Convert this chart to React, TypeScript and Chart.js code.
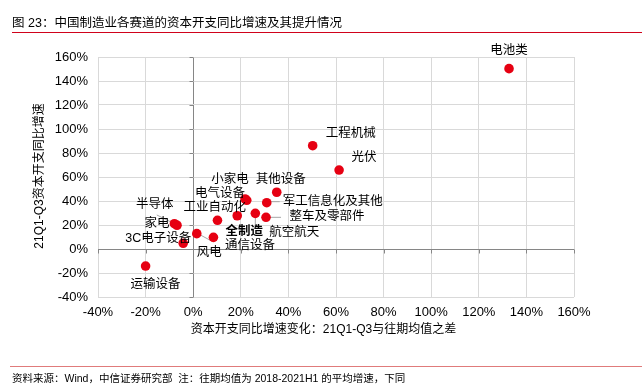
import React, { useEffect, useRef } from "react";
import { Chart, registerables } from "chart.js";

Chart.register(...registerables);

// ---- data ----
const categories = [
  "电池类", "工程机械", "光伏", "其他设备", "小家电", "电气设备",
  "军工信息化及其他", "整车及零部件", "航空航天", "全制造", "工业自动化",
  "通信设备", "风电", "半导体", "家电", "3C电子设备", "运输设备",
];
// x: 资本开支同比增速变化 (21Q1-Q3 与往期均值之差), %
const capexChange = [132.7, 50.2, 61.3, 35.1, 21.8, 22.5, 30.9, 30.6, 26.1, 18.5, 10.2, 8.5, 1.5, -7.9, -6.8, -4.2, -20.0];
// y: 21Q1-Q3 资本开支同比增速, %
const capexGrowth = [150.3, 86.1, 65.8, 47.3, 41.7, 40.6, 38.6, 26.4, 29.7, 27.7, 23.9, 9.7, 12.8, 21.1, 19.8, 4.8, -14.2];
const axisMin = -40;
const axisMax = 160;
const axisStep = 20;

const titleText = "图 23：中国制造业各赛道的资本开支同比增速及其提升情况";
const sourceText = "资料来源：Wind，中信证券研究部  注：往期均值为 2018-2021H1 的平均增速，下同";
const xTitleText = "资本开支同比增速变化：21Q1-Q3与往期均值之差";
const yTitleText = "21Q1-Q3资本开支同比增速";

// ---- label placement (pixel offsets from each point; style only) ----
type Place = { dx: number; dy: number; bold?: boolean; leader?: [number, number, number, number] };
const placements: Place[] = [
  { dx: 0, dy: -18 },
  { dx: 38, dy: -12.4 },
  { dx: 25, dy: -12.7 },
  { dx: 4, dy: -13 },
  { dx: -15, dy: -19.8 },
  { dx: -26.7, dy: -7 },
  { dx: 66, dy: -1, leader: [4, -1, 13, -1] },
  { dx: 61, dy: -0.6, leader: [4, 0, 15, 0] },
  { dx: 39, dy: 19.4, leader: [0, 3, 0, 13] },
  { dx: 7, dy: 15.6, bold: true },
  { dx: -2.8, dy: -12.6 },
  { dx: 36.5, dy: 8.3 },
  { dx: 12.6, dy: 18.8, leader: [3, 1, 15, 7.5] },
  { dx: -19.6, dy: -19.5, leader: [-17.6, -8.7, 0, 0] },
  { dx: -20, dy: -2 },
  { dx: -25, dy: -5 },
  { dx: 10, dy: 18.7 },
];

const FONT_LATIN_CJK = "'Liberation Sans', 'Noto Sans CJK SC', sans-serif";

const decorPlugin = {
  id: "decor",
  beforeDatasetsDraw(chart: any) {
    const ctx = chart.ctx;
    const meta = chart.getDatasetMeta(0);
    ctx.save();
    ctx.strokeStyle = "#a6a6a6";
    ctx.lineWidth = 1;
    meta.data.forEach((pt: any, i: number) => {
      const p = placements[i];
      if (!p || !p.leader) return;
      const [x1, y1, x2, y2] = p.leader;
      ctx.beginPath();
      ctx.moveTo(pt.x + x1, pt.y + y1);
      ctx.lineTo(pt.x + x2, pt.y + y2);
      ctx.stroke();
    });
    // small tick marks on the zero axes
    const xs = chart.scales.x;
    const ys = chart.scales.y;
    const x0 = Math.round(xs.getPixelForValue(0)) + 0.5;
    const y0 = Math.round(ys.getPixelForValue(0)) + 0.5;
    ctx.strokeStyle = "#868686";
    for (let v = axisMin; v <= axisMax; v += axisStep) {
      const yy = Math.round(ys.getPixelForValue(v)) + 0.5;
      ctx.beginPath();
      ctx.moveTo(x0 - 4, yy);
      ctx.lineTo(x0, yy);
      ctx.stroke();
      const xx = Math.round(xs.getPixelForValue(v)) + 0.5;
      ctx.beginPath();
      ctx.moveTo(xx, y0);
      ctx.lineTo(xx, y0 + 4);
      ctx.stroke();
    }
    ctx.restore();
  },
  afterDatasetsDraw(chart: any) {
    const ctx = chart.ctx;
    const meta = chart.getDatasetMeta(0);
    ctx.save();
    ctx.fillStyle = "#000";
    ctx.textAlign = "center";
    ctx.textBaseline = "middle";
    meta.data.forEach((pt: any, i: number) => {
      const p = placements[i];
      ctx.font = `${p.bold ? "bold " : ""}12.5px ${FONT_LATIN_CJK}`;
      ctx.fillText(categories[i], pt.x + p.dx, pt.y + p.dy);
    });
    ctx.restore();
  },
  afterDraw(chart: any) {
    const ctx = chart.ctx;
    const area = chart.chartArea;
    ctx.save();
    // header
    ctx.fillStyle = "#000";
    ctx.font = `12.5px ${FONT_LATIN_CJK}`;
    ctx.textAlign = "left";
    ctx.textBaseline = "middle";
    ctx.fillText(titleText, 12, 24);
    ctx.strokeStyle = "#d0021b";
    ctx.lineWidth = 1;
    ctx.beginPath();
    ctx.moveTo(12, 32.5);
    ctx.lineTo(642, 32.5);
    ctx.stroke();
    // footer
    ctx.strokeStyle = "#e07b7b";
    ctx.beginPath();
    ctx.moveTo(10, 366.5);
    ctx.lineTo(642, 366.5);
    ctx.stroke();
    ctx.font = `10.5px ${FONT_LATIN_CJK}`;
    ctx.fillText(sourceText, 12, 379);
    // axis titles
    ctx.font = `12px ${FONT_LATIN_CJK}`;
    ctx.textAlign = "center";
    ctx.fillText(xTitleText, 323.5, 330);
    ctx.translate(40, (area.top + area.bottom) / 2 - 1);
    ctx.rotate(-Math.PI / 2);
    ctx.fillText(yTitleText, 0, 0);
    ctx.restore();
  },
};

const gridColor = (c: any) => (c.tick && c.tick.value === 0 ? "#868686" : "#d9d9d9");
const pct = (v: any) => `${v}%`;

export default function App() {
  const ref = useRef<HTMLCanvasElement | null>(null);
  useEffect(() => {
    if (!ref.current) return;
    const chart = new Chart(ref.current, {
      type: "scatter",
      data: {
        datasets: [
          {
            label: "行业",
            data: categories.map((_, i) => ({ x: capexChange[i], y: capexGrowth[i] })),
            backgroundColor: "#e60012",
            borderWidth: 0,
            pointRadius: 4.8,
          },
        ],
      },
      options: {
        animation: false,
        responsive: false,
        devicePixelRatio: 1,
        layout: { padding: { left: 0, top: 57, right: 68, bottom: 42 } },
        plugins: { legend: { display: false }, tooltip: { enabled: false } },
        scales: {
          x: {
            type: "linear",
            min: axisMin,
            max: axisMax,
            ticks: {
              stepSize: axisStep,
              callback: pct,
              color: "#000",
              padding: 8,
              maxRotation: 0,
              font: { family: FONT_LATIN_CJK, size: 13 },
            },
            grid: { color: gridColor, lineWidth: 1, drawTicks: false },
            border: { display: false },
            afterFit: (s: any) => {
              s.height = 50;
            },
          },
          y: {
            type: "linear",
            min: axisMin,
            max: axisMax,
            ticks: {
              stepSize: axisStep,
              callback: pct,
              color: "#000",
              padding: 10,
              font: { family: FONT_LATIN_CJK, size: 13 },
            },
            grid: { color: gridColor, lineWidth: 1, drawTicks: false },
            border: { display: false },
            afterFit: (s: any) => {
              s.width = 98;
            },
          },
        },
      },
      plugins: [decorPlugin],
    });
    return () => chart.destroy();
  }, []);
  return (
    <div style={{ position: "fixed", left: 0, top: 0, width: 642, height: 389, background: "#fff" }}>
      <canvas ref={ref} width={642} height={389} style={{ width: 642, height: 389, display: "block" }} />
    </div>
  );
}
